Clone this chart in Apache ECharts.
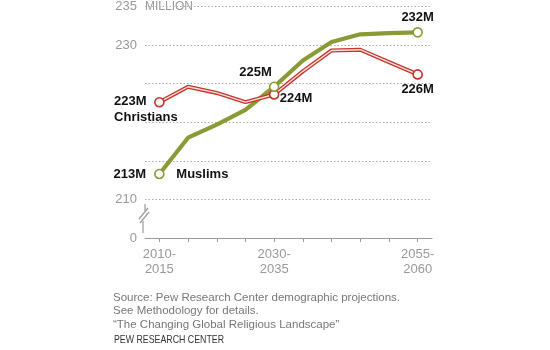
<!DOCTYPE html>
<html>
<head>
<meta charset="utf-8">
<script src="https://cdn.jsdelivr.net/npm/echarts@6/dist/echarts.min.js"></script>
<style>
html,body{margin:0;padding:0;background:#fff;}
#c{width:550px;height:350px;}
</style>
</head>
<body>
<div id="c"></div>
<script>
var categories = ['2010-2015','2015-2020','2020-2025','2025-2030','2030-2035','2035-2040','2040-2045','2045-2050','2050-2055','2055-2060'];
var christians = [222.6, 224.6, 223.8, 222.6, 223.6, 226.6, 229.3, 229.4, 227.8, 226.2];
var muslims    = [213.3, 218.0, 219.7, 221.6, 224.6, 228.0, 230.4, 231.4, 231.55, 231.65];
var christianLabels = ['223M', null, null, null, '224M', null, null, null, null, '226M'];
var muslimLabels    = ['213M', null, null, null, '225M', null, null, null, null, '232M'];
var seriesNames = ['Christians', 'Muslims'];
var xTickLabels = {0: '2010-\n2015', 4: '2030-\n2035', 9: '2055-\n2060'};
var yTickLabels = {205: '0', 210: '210', 215: '', 220: '', 225: '', 230: '230', 235: '235'};

var RED = '#C4342A', PINK = '#F9E2DF', GREEN = '#8A9A34';
var FONT = '"Liberation Sans", Arial, sans-serif';
var markIdx = [0, 4, 9];

var chart = echarts.init(document.getElementById('c'), null, {renderer: 'canvas'});

function lblStyle(extra) {
  var o = {show: true, color: '#111', fontWeight: 'bold', fontSize: 13, fontFamily: FONT};
  for (var k in extra) o[k] = extra[k];
  return o;
}

var redLabelCfg = {
  0: lblStyle({position: [-40, -3], align: 'left', verticalAlign: 'top', lineHeight: 16,
               formatter: christianLabels[0] + '\n' + seriesNames[0]}),
  4: lblStyle({position: [11, 9], align: 'left', verticalAlign: 'middle'}),
  9: lblStyle({position: 'bottom', distance: 3})
};
var greenLabelCfg = {
  0: lblStyle({position: 'left', distance: 8}),
  4: lblStyle({position: [3, -9], align: 'right', verticalAlign: 'middle'}),
  9: lblStyle({position: 'top', distance: 3})
};

function buildData(vals, labels, cfg) {
  return vals.map(function(v, i) {
    var d = {value: v, symbol: markIdx.indexOf(i) >= 0 ? 'circle' : 'none'};
    if (cfg && cfg[i]) {
      var l = cfg[i];
      if (!l.formatter) { l.formatter = labels[i]; }
      d.label = l;
    }
    return d;
  });
}

var muslimNameData = muslims.map(function(v, i) {
  return i === 0
    ? {value: v, symbol: 'circle', label: lblStyle({position: 'right', distance: 12, formatter: seriesNames[1]})}
    : {value: v, symbol: 'none'};
});

var option = {
  animation: false,
  backgroundColor: '#fff',
  grid: {left: 145, right: 118, top: 5, bottom: 112},
  xAxis: {
    type: 'category',
    data: categories,
    boundaryGap: true,
    axisLine: {show: true, lineStyle: {color: '#9a9a9a', width: 1}},
    axisTick: {show: true, alignWithLabel: true, interval: 0, length: 4, lineStyle: {color: '#9a9a9a'}},
    axisLabel: {
      interval: function(i){ return xTickLabels[i] !== undefined; },
      formatter: function(v, i){ return xTickLabels[i] || ''; },
      color: '#999', fontSize: 13, fontFamily: FONT, lineHeight: 15, margin: 9
    },
    splitLine: {show: false}
  },
  yAxis: {
    type: 'value',
    min: 205, max: 235, interval: 5,
    axisLine: {show: false},
    axisTick: {show: false},
    axisLabel: {
      formatter: function(v){ return yTickLabels[v] !== undefined ? yTickLabels[v] : ''; },
      color: '#999', fontSize: 13, fontFamily: FONT, margin: 8
    },
    splitLine: {show: true, showMinLine: false, lineStyle: {color: '#aaa', type: [1.5, 2], width: 1}}
  },
  series: [
    {
      type: 'line', z: 2, data: muslims.slice(),
      symbol: 'none',
      lineStyle: {color: GREEN, width: 4.2}, itemStyle: {color: GREEN}
    },
    {
      type: 'line', z: 4, data: christians.slice(),
      symbol: 'none',
      lineStyle: {color: RED, width: 4}, itemStyle: {color: RED}
    },
    {
      type: 'line', z: 5, data: buildData(christians, christianLabels, redLabelCfg),
      symbolSize: 9, showAllSymbol: true,
      lineStyle: {color: PINK, width: 1.4},
      itemStyle: {color: '#fff', borderColor: RED, borderWidth: 1.6}
    },
    {
      type: 'line', z: 6, data: buildData(muslims, muslimLabels, greenLabelCfg),
      symbolSize: 9, showAllSymbol: true,
      lineStyle: {opacity: 0},
      itemStyle: {color: '#fff', borderColor: GREEN, borderWidth: 1.6}
    },
    {
      type: 'line', z: 7, data: muslimNameData,
      symbolSize: 9, showAllSymbol: true,
      lineStyle: {opacity: 0},
      itemStyle: {color: 'rgba(0,0,0,0)', borderColor: 'rgba(0,0,0,0)'}
    }
  ],
  graphic: [
    {type: 'text', x: 145, y: 7, style: {text: 'MILLION', fill: '#999', font: '12px ' + FONT, verticalAlign: 'middle'}},
    {type: 'line', shape: {x1: 145, y1: 204, x2: 145, y2: 211}, style: {stroke: '#999', lineWidth: 1.2}},
    {type: 'line', shape: {x1: 148, y1: 208, x2: 139, y2: 219}, style: {stroke: '#999', lineWidth: 1.2}},
    {type: 'line', shape: {x1: 149, y1: 212, x2: 140, y2: 223}, style: {stroke: '#999', lineWidth: 1.2}},
    {type: 'line', shape: {x1: 143, y1: 221, x2: 143, y2: 233}, style: {stroke: '#999', lineWidth: 1.2}},
    {type: 'text', x: 113, y: 291, style: {text: 'Source: Pew Research Center demographic projections.\nSee Methodology for details.\n\u201CThe Changing Global Religious Landscape\u201D', fill: '#777', font: '11.5px ' + FONT, lineHeight: 13.5}},
    {type: 'text', x: 114, y: 340, scaleX: 0.8, style: {text: 'PEW RESEARCH CENTER', fill: '#333', font: '11px ' + FONT, verticalAlign: 'middle'}}
  ]
};
chart.setOption(option);
</script>
</body>
</html>
